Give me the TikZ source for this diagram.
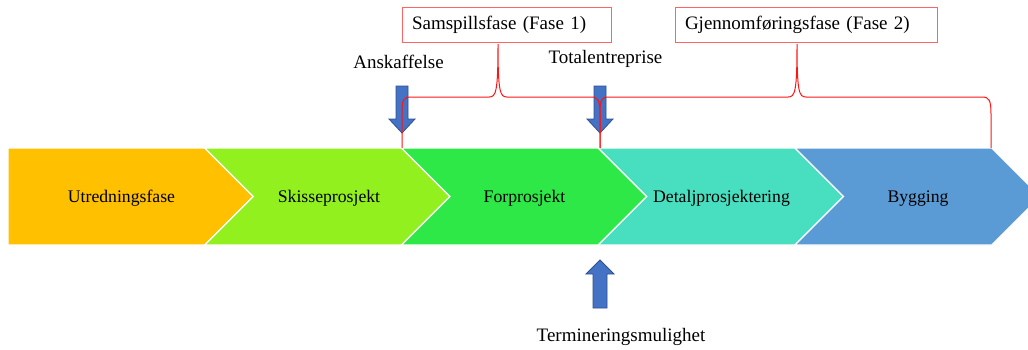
\documentclass[tikz,border=0pt]{standalone}
\usepackage{fontspec}
\setmainfont{Liberation Serif}
\usetikzlibrary{positioning,calc}
\definecolor{UtredGold}{RGB}{255,192,0}
\definecolor{SkisseLime}{RGB}{146,240,30}
\definecolor{ForGreen}{RGB}{46,232,72}
\definecolor{DetaljTeal}{RGB}{72,222,192}
\definecolor{ByggBlue}{RGB}{91,155,213}
\definecolor{ArrowBlue}{RGB}{68,114,196}
\definecolor{ArrowEdge}{RGB}{47,82,143}
\definecolor{BraceRed}{RGB}{255,20,20}
\definecolor{BoxRed}{RGB}{255,100,100}

\begin{document}
\begin{tikzpicture}[
  x=1pt, y=-1pt,
  chev/.style={draw=white, line width=1.2pt, line join=miter},
  chevtxt/.style={anchor=base, inner sep=0pt, font=\fontsize{17.7}{20}\selectfont},
  fasebox/.style={
    rectangle, draw=BoxRed, line width=1pt, fill=white,
    minimum height=35pt, inner xsep=10pt, inner ysep=0pt,
    align=left, font=\fontsize{19}{22}\selectfont
  },
  lbl/.style={anchor=base, inner sep=0pt, font=\fontsize{19}{22}\selectfont},
  blk/.style={fill=ArrowBlue, draw=ArrowEdge, line width=0.8pt, line join=miter},
  brc/.style={draw=BraceRed, line width=1pt}
]
\useasboundingbox (0,0) rectangle (1028,349);
\fill[white] (0,0) rectangle (1028,349);

% ---- Phase chevrons ----
\fill[UtredGold, chev]  (8,148) -- (204.75,148) -- (253.25,196.5) -- (204.75,245) -- (8,245) -- cycle;
\fill[SkisseLime, chev] (204.75,148) -- (401.5,148) -- (450,196.5) -- (401.5,245) -- (204.75,245) -- (253.25,196.5) -- cycle;
\fill[ForGreen, chev]   (401.5,148) -- (598.25,148) -- (646.75,196.5) -- (598.25,245) -- (401.5,245) -- (450,196.5) -- cycle;
\fill[DetaljTeal, chev] (598.25,148) -- (795,148) -- (843.5,196.5) -- (795,245) -- (598.25,245) -- (646.75,196.5) -- cycle;
\fill[ByggBlue, chev]   (795,148) -- (991.75,148) -- (1040.25,196.5) -- (991.75,245) -- (795,245) -- (843.5,196.5) -- cycle;

\node[chevtxt] (utred)  at (121.5,202) {Utredningsfase};
\node[chevtxt] (skisse) at (329,202)   {Skisseprosjekt};
\node[chevtxt] (forpro) at (524.5,202) {Forprosjekt};
\node[chevtxt] (detalj) at (721.5,202) {Detaljprosjektering};
\node[chevtxt] (bygg)   at (918,202)   {Bygging};

% ---- Phase boxes and labels ----
\node[fasebox, text width=189pt] (fase1) at (506.5,24.5) {Samspillsfase (Fase 1)};
\node[fasebox, text width=242pt] (fase2) at (806,24.5)   {Gjennomføringsfase (Fase 2)};

\node[lbl] (anskaff)  at (398.5,68) {Anskaffelse};
\node[lbl] (totalent) at (605.5,63) {Totalentreprise};
\node[lbl] (termin)   at (621,341)  {Termineringsmulighet};

% ---- Block arrows ----
\coordinate (ansk)  at (402,86);
\coordinate (total) at (600,86);
\coordinate (term)  at (600,308);

\draw[blk] ($(ansk)+(-6,0)$)  -- ++(12,0) -- ++(0,33) -- ++(7,0) -- ++(-13,14) -- ++(-13,-14) -- ++(7,0) -- cycle;
\draw[blk] ($(total)+(-6,0)$) -- ++(12,0) -- ++(0,33) -- ++(7,0) -- ++(-13,14) -- ++(-13,-14) -- ++(7,0) -- cycle;
\draw[blk] ($(term)+(-7,0)$)  -- ++(14,0) -- ++(0,-34) -- ++(7,0) -- ++(-14,-14) -- ++(-14,14) -- ++(7,0) -- cycle;

% ---- Braces ----
\coordinate (f1tip) at (498,44);
\coordinate (f2tip) at (797,44);

\draw[brc] (402,148) -- (402,114) .. controls (402,100) and (403,97) .. (411,97) -- (489,97)
  .. controls (496,97) and (498,92) .. (f1tip) .. controls (498,92) and (500,97) .. (507,97)
  -- (591,97) .. controls (598,97) and (600,100) .. (600,114) -- (600,148);
\draw[brc] (600,148) -- (600,114) .. controls (600,100) and (601,97) .. (609,97) -- (788,97)
  .. controls (795,97) and (797,92) .. (f2tip) .. controls (797,92) and (799,97) .. (806,97)
  -- (982,97) .. controls (989,97) and (991,100) .. (991,114) -- (991,148);

\end{tikzpicture}
\end{document}
